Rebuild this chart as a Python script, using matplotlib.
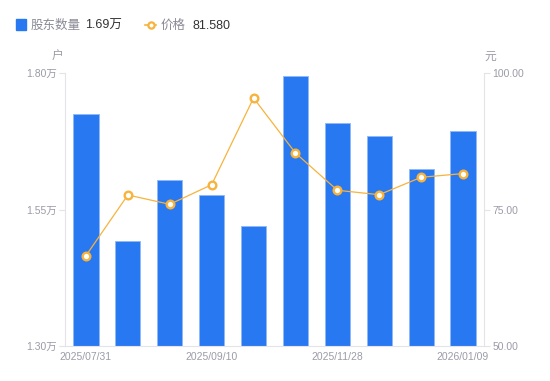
import matplotlib
matplotlib.use('Agg')
import matplotlib.pyplot as plt
import matplotlib.transforms as mtransforms
from matplotlib.lines import Line2D
from matplotlib.patches import Rectangle

plt.rcParams['font.family'] = ['Liberation Sans', 'Noto Sans CJK SC', 'DejaVu Sans']

# datos
fechas = ['2025/07/31', '', '', '2025/09/10', '', '', '2025/11/28', '', '', '2026/01/09']
accionistas = [1.725, 1.492, 1.604, 1.576, 1.520, 1.795, 1.708, 1.685, 1.625, 1.694]  # 万户
precios = [66.54, 77.66, 75.95, 79.54, 95.42, 85.35, 78.52, 77.71, 80.90, 81.58]  # 元
ticks_izq = [1.30, 1.55, 1.80]
ticks_der = [50, 75, 100]

AZUL = '#2878f2'
NARANJA = '#f7b33c'
GRIS = '#9b9ba8'
LINEA = '#e3e3e8'

fig = plt.figure(figsize=(5.5, 3.81), dpi=100)
ax = fig.add_axes([65 / 550, 1 - 346 / 381, 419 / 550, 273 / 381])
ax2 = ax.twinx()

x = list(range(len(fechas)))
ax.bar(x, accionistas, width=0.6, color=AZUL, edgecolor='#8fb8f7', linewidth=0.6, zorder=2)
ax2.plot(x, precios, color=NARANJA, linewidth=0.9, marker='o', markersize=5.5,
         markerfacecolor='white', markeredgecolor=NARANJA, markeredgewidth=1.7, zorder=3)

ax.set_xlim(-0.5, len(fechas) - 0.5)
ax.set_ylim(1.30, 1.80)
ax2.set_ylim(50, 100)

ax.set_yticks(ticks_izq)
ax.set_yticklabels([f'{v:.2f}万' for v in ticks_izq])
ax2.set_yticks(ticks_der)
ax2.set_yticklabels([f'{v:.2f}' for v in ticks_der])

idx = [i for i, f in enumerate(fechas) if f]
ax.set_xticks(idx)
ax.set_xticklabels([fechas[i] for i in idx])
for k, lab in enumerate(ax.get_xticklabels()):
    dx = (-4 - 6.4 * k) / 100
    lab.set_transform(lab.get_transform() + mtransforms.ScaledTranslation(dx, 0, fig.dpi_scale_trans))

for a in (ax, ax2):
    for s in a.spines.values():
        s.set_visible(False)
    a.tick_params(colors=GRIS, labelcolor=GRIS, labelsize=7.5, length=4, width=0.8)
ax.spines['left'].set_visible(True)
ax.spines['left'].set_color(LINEA)
ax.spines['bottom'].set_visible(True)
ax.spines['bottom'].set_color(LINEA)
ax2.spines['right'].set_visible(True)
ax2.spines['right'].set_color(LINEA)
ax.tick_params(axis='y', colors=LINEA, labelcolor=GRIS, pad=2)
ax2.tick_params(axis='y', colors=LINEA, labelcolor=GRIS, pad=2)
ax.tick_params(axis='x', length=0, pad=4)

ax.set_zorder(ax2.get_zorder() - 1)
ax.patch.set_visible(True)
ax2.patch.set_visible(False)

# unidades
fig.text(58 / 550, 1 - 57 / 381, '户', color=GRIS, fontsize=8.5, ha='center', va='center')
fig.text(490 / 550, 1 - 57 / 381, '元', color=GRIS, fontsize=8.5, ha='center', va='center')

# leyenda
yl = 1 - 24.5 / 381
yt = 1 - 26 / 381
fig.add_artist(Rectangle((16 / 550, 1 - 29.5 / 381), 10 / 550, 10 / 381, color=AZUL, transform=fig.transFigure))
fig.text(31 / 550, yt, '股东数量', color='#8a8a96', fontsize=9, va='center')
fig.text(85 / 550, yt, f'{accionistas[-1]:.2f}万', color='#333333', fontsize=9, va='center')
fig.add_artist(Line2D([145 / 550, 156 / 550], [yl, yl], color=NARANJA, linewidth=1.2, transform=fig.transFigure))
fig.add_artist(Line2D([150.5 / 550], [yl], marker='o', markersize=4.5, markerfacecolor='white',
                      markeredgecolor=NARANJA, markeredgewidth=1.6, transform=fig.transFigure))
fig.text(161 / 550, yt, '价格', color='#8a8a96', fontsize=9, va='center')
fig.text(192 / 550, yt, f'{precios[-1]:.3f}', color='#333333', fontsize=9, va='center')

fig.savefig('out.png', dpi=100)
